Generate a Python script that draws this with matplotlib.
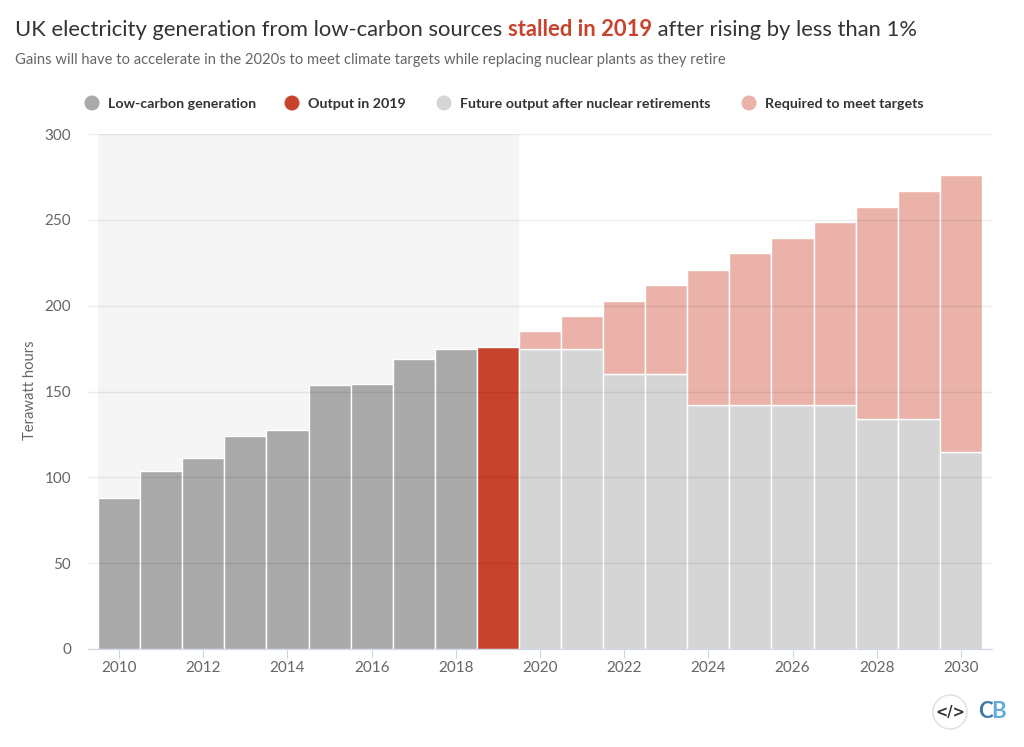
import matplotlib
matplotlib.use('Agg')
import matplotlib.pyplot as plt
from matplotlib.patches import Circle

plt.rcParams['font.family'] = ['Lato', 'DejaVu Sans']

W, H = 1024, 747

## values, terawatt hours
past_years = [2010, 2011, 2012, 2013, 2014, 2015, 2016, 2017, 2018]
past_gen = [88, 103.5, 111.5, 124, 127.5, 154, 154.5, 169, 175]
year_2019 = [2019]
gen_2019 = [176]
future_years = [2020, 2021, 2022, 2023, 2024, 2025, 2026, 2027, 2028, 2029, 2030]
future_gen = [175, 175, 160, 160, 142, 142, 142, 142, 134, 134, 115]
target_total = [185, 194, 203, 212, 221, 230.5, 239.5, 248.5, 257.5, 267, 276]
required = [t - f for t, f in zip(target_total, future_gen)]

y_ticks = [0, 50, 100, 150, 200, 250, 300]
x_ticks = list(range(2010, 2031, 2))

legend_labels = ['Low-carbon generation', 'Output in 2019',
                 'Future output after nuclear retirements', 'Required to meet targets']
legend_cols = ['#a9a9a9', '#c7432b', '#d5d5d5', '#eab2a9']
legend_dots = [92, 292, 444, 749]

RED = '#c7432b'
DARK = '#333333'
GREY = '#666666'
AXIS = '#ccd6eb'

fig = plt.figure(figsize=(W / 100, H / 100), dpi=100)
ax = fig.add_axes([88 / W, 1 - 649 / H, (992 - 88) / W, (649 - 134) / H])

ax.axvspan(2009.5, 2019.5, color='#f5f5f5', lw=0, zorder=0)
ax.set_axisbelow(False)
ax.grid(axis='y', color='#000000', alpha=0.07, lw=1, zorder=5)

ax.bar(past_years, past_gen, width=1, color=legend_cols[0], edgecolor='white', lw=1, zorder=2)
ax.bar(year_2019, gen_2019, width=1, color=legend_cols[1], edgecolor='white', lw=1, zorder=2)
ax.bar(future_years, future_gen, width=1, color=legend_cols[2], edgecolor='white', lw=1, zorder=2)
ax.bar(future_years, required, width=1, bottom=future_gen, color=legend_cols[3],
       edgecolor='white', lw=1, zorder=2)

ax.set_xlim(2009.26, 2030.74)
ax.set_ylim(0, 300)
ax.set_xticks(x_ticks)
ax.set_yticks(y_ticks)
ax.tick_params(axis='x', length=6.5, color=AXIS, labelcolor=GREY, labelsize=11, pad=2.5)
ax.tick_params(axis='y', length=0, labelcolor=GREY, labelsize=11, pad=12)
for s in ['top', 'right', 'left']:
    ax.spines[s].set_visible(False)
ax.spines['bottom'].set_color(AXIS)
ax.set_ylabel('Terawatt hours', color=GREY, fontsize=10.6, va='center')
ax.yaxis.set_label_coords((30 - 88) / (992 - 88), (649 - 390) / (649 - 134))

## title, three pieces in a row
def fx(px):
    return px / W

def fy(px):
    return 1 - px / H

renderer = fig.canvas.get_renderer()
x = 15
for txt, col, wt in [('UK electricity generation from low-carbon sources ', DARK, 'normal'),
                     ('stalled in 2019', RED, 'bold'),
                     (' after rising by less than 1%', DARK, 'normal')]:
    t = fig.text(fx(x), fy(30), txt.replace(' ', '\u00a0'), color=col, fontsize=15.85,
                 fontweight=wt, va='center', ha='left')
    x = t.get_window_extent(renderer).x1

fig.text(fx(15), fy(60), 'Gains will have to accelerate in the 2020s to meet climate targets '
         'while replacing nuclear plants as they retire', color=GREY, fontsize=10.6,
         va='center', ha='left')

## legend
for lab, col, dot in zip(legend_labels, legend_cols, legend_dots):
    fig.add_artist(Circle((dot, H - 103), 7.5, color=col, lw=0, transform=None))
    fig.text(fx(dot + 16), fy(103.5), lab, color=DARK, fontsize=10.3, fontweight='bold',
             va='center', ha='left')

## logo bottom right
fig.add_artist(Circle((950, H - 712), 17, facecolor='white', edgecolor='#e3dcdc', lw=1, transform=None))
fig.text(fx(950), fy(712), '</>', color=DARK, fontsize=10.5, fontweight='bold',
         family='DejaVu Sans', va='center', ha='center')
logo_font = ['Liberation Sans Narrow', 'Lato']
fig.text(fx(978), fy(711), 'C', color='#3d78a8', fontsize=16, fontweight='bold',
         family=logo_font, va='center', ha='left')
fig.text(fx(991), fy(711), 'B', color='#62acdc', fontsize=16, fontweight='bold',
         family=logo_font, va='center', ha='left')

fig.savefig('out.png', dpi=100)
